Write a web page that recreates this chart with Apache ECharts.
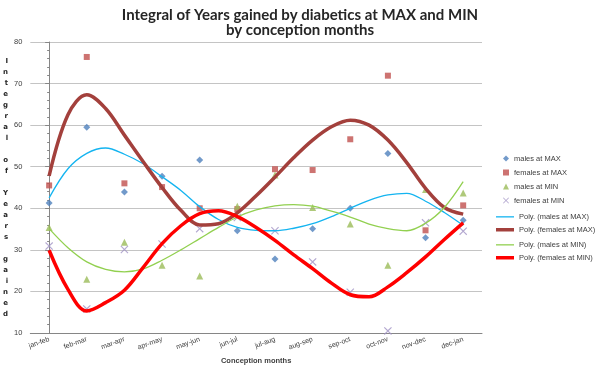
<!DOCTYPE html>
<html>
<head>
<meta charset="utf-8">
<script src="https://cdn.jsdelivr.net/npm/echarts@6/dist/echarts.min.js"></script>
<style>
  html, body { margin: 0; padding: 0; background: #fff; }
  #chart { width: 600px; height: 371px; }
</style>
</head>
<body>
<div id="chart"></div>
<script>
// values
var categories = ['jan-feb', 'feb-mar', 'mar-apr', 'apr-may', 'may-jun', 'jun-jul',
                  'jul-aug', 'aug-sep', 'sep-oct', 'oct-nov', 'nov-dec', 'dec-jan'];
var malesMax   = [41.3, 59.5, 43.9, 47.7, 51.6, 34.6, 27.8, 35.1, 40.0, 53.2, 32.9, 37.1];
var femalesMax = [45.5, 76.4, 46.0, 45.1, 40.0, 39.8, 49.4, 49.2, 56.6, 71.9, 34.7, 40.7];
var malesMin   = [35.4, 22.9, 31.8, 26.3, 23.7, 40.5, 48.0, 40.2, 36.2, 26.3, 44.5, 43.7];
var femalesMin = [30.9, 15.8, 30.1, 31.4, 35.1, 37.8, 34.6, 27.1, 19.8, 10.5, 36.5, 34.5];

// trend curves, read at every half category (0 = jan-feb ... 11 = dec-jan)
var trendPos       = [0, 0.5, 1, 1.5, 2, 2.5, 3, 3.5, 4, 4.5, 5, 5.5, 6, 6.5, 7, 7.5, 8, 8.5, 9, 9.5, 10, 10.5, 11];
var polyMalesMax   = [42.5, 49.5, 53.2, 54.5, 53.0, 50.7, 47.6, 44.3, 40.4, 37.3, 35.4, 34.7, 34.6, 35.2, 36.3, 38.0, 40.0, 41.9, 43.2, 43.6, 41.7, 39.0, 35.9];
var polyFemalesMax = [47.8, 62.5, 67.3, 64.0, 57.6, 51.2, 45.0, 39.5, 36.0, 36.3, 38.9, 43.0, 47.5, 52.2, 56.4, 59.6, 61.2, 60.0, 56.4, 51.0, 44.8, 40.2, 38.6];
var polyMalesMin   = [35.1, 30.5, 27.1, 25.3, 24.7, 25.4, 27.5, 30.0, 32.7, 35.4, 37.9, 39.6, 40.6, 40.9, 40.5, 39.3, 37.9, 36.2, 35.1, 34.6, 36.4, 40.2, 46.4];
var polyFemalesMin = [29.9, 20.5, 15.3, 17.3, 20.3, 25.8, 31.5, 35.8, 38.7, 39.4, 38.0, 35.4, 32.3, 28.8, 25.5, 22.0, 19.2, 18.7, 21.1, 24.5, 28.3, 32.5, 36.5];

var yTicks = { min: 10, max: 80, step: 10 };

var crossPath = 'path://M0,1L1,0L5,4L9,0L10,1L6,5L10,9L9,10L5,6L1,10L0,9L4,5Z';

var myChart = echarts.init(document.getElementById('chart'));

function pairs(vals) {
    return vals.map(function (v, i) { return [trendPos[i], v]; });
}
function dots(name, data, symbol, size, color) {
    return {
        name: name, type: 'scatter', data: data,
        symbol: symbol, symbolSize: size,
        itemStyle: { color: color }, z: 2
    };
}
function trend(name, vals, color, width) {
    return {
        name: name, type: 'line', data: pairs(vals), smooth: 0.35,
        xAxisIndex: 1, symbol: 'none',
        lineStyle: { color: color, width: width },
        itemStyle: { color: color }, z: 3
    };
}

var yName = 'Integral of Years gained'.split(' ').map(function (w) {
    return w.split('').join('\n');
}).join('\n\n');

var series = [
    dots('males at MAX', malesMax, 'diamond', 7, '#4f81bd'),
    dots('females at MAX', femalesMax, 'rect', 6, '#c0504d'),
    dots('males at MIN', malesMin, 'triangle', 7, '#9bbb59'),
    dots('females at MIN', femalesMin, crossPath, 8, '#a092c4'),
    trend('Poly. (males at MAX)', polyMalesMax, '#14b4f0', 1.3),
    trend('Poly. (females at MAX)', polyFemalesMax, '#a3403c', 3.5),
    trend('Poly. (males at MIN)', polyMalesMin, '#92d050', 1.3),
    trend('Poly. (females at MIN)', polyFemalesMin, '#ff0000', 3.5)
];

// one legend per row, so markers keep their shape and lines their thickness
var legends = series.map(function (s, i) {
    var rowY = 157.5 + i * 14;
    var isLine = s.type === 'line';
    var h = isLine ? s.lineStyle.width : 6;
    return {
        data: [isLine ? { name: s.name, icon: 'rect' } : s.name],
        orient: 'vertical',
        left: isLine ? 496 : 503,
        top: rowY - h / 2,
        itemWidth: isLine ? 18 : 6,
        itemHeight: h,
        padding: 0,
        textStyle: { fontFamily: 'Liberation Sans', fontSize: 7.5, color: '#404040' }
    };
});

var option = {
    animation: false,
    textStyle: { fontFamily: 'Liberation Sans' },
    title: {
        text: 'Integral of Years gained by diabetics at MAX and MIN\nby conception months',
        left: 'center', top: 3,
        textStyle: { fontFamily: 'Lato', fontWeight: 'bold', fontSize: 15, lineHeight: 15, color: '#262626' }
    },
    grid: { left: 30, right: 118, top: 42, bottom: 38 },
    legend: legends,
    xAxis: [{
        type: 'category', data: categories, boundaryGap: true,
        name: 'Conception months', nameLocation: 'middle', nameGap: 21,
        nameTextStyle: { fontSize: 7.5, fontWeight: 'bold', color: '#404040' },
        axisLine: { lineStyle: { color: '#868686' } },
        axisTick: { length: 4, lineStyle: { color: '#868686' } },
        axisLabel: { rotate: 20, fontSize: 7, color: '#404040', margin: 6, interval: 0 },
        splitLine: { show: false }
    }, {
        type: 'value', min: -0.5, max: 11.5, show: false,
        splitLine: { show: false }
    }],
    yAxis: {
        type: 'value', min: yTicks.min, max: yTicks.max, interval: yTicks.step,
        name: yName, nameLocation: 'middle', nameGap: 20, nameRotate: 0,
        nameTextStyle: { fontFamily: 'DejaVu Sans', fontSize: 7, fontWeight: 'bold', color: '#262626', lineHeight: 11 },
        axisLine: { show: true, lineStyle: { color: '#868686' } },
        axisTick: { show: true, length: 4, lineStyle: { color: '#868686' } },
        minorTick: { show: true, splitNumber: 5, length: 2, lineStyle: { color: '#868686' } },
        axisLabel: { fontSize: 7.5, color: '#404040', margin: 8 },
        splitLine: { lineStyle: { color: '#c4c4c4', width: 1.2 } }
    },
    series: series
};

myChart.setOption(option, true);
</script>
</body>
</html>
